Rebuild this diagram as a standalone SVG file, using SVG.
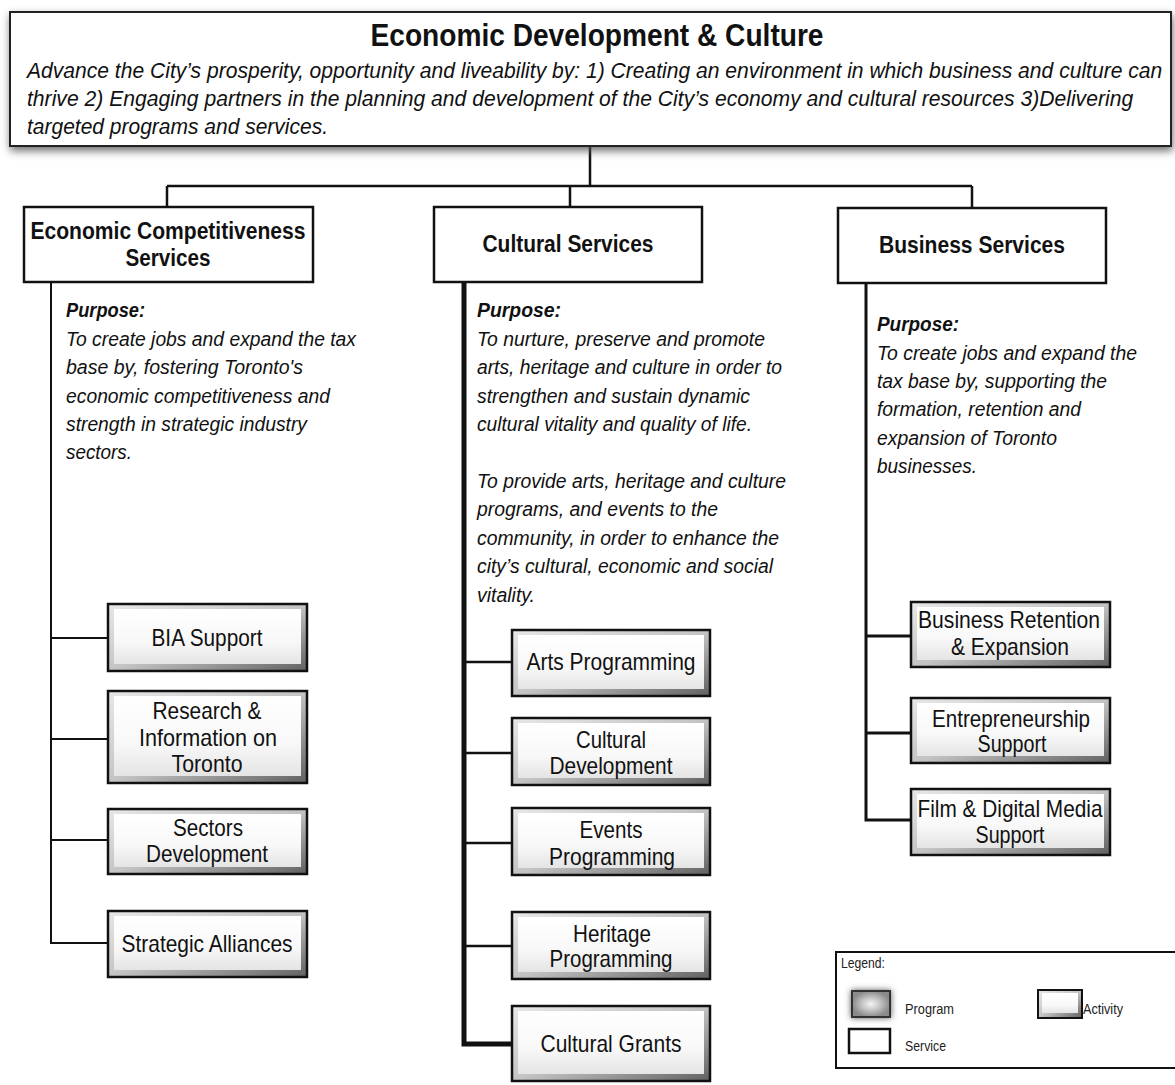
<svg xmlns="http://www.w3.org/2000/svg" width="1175" height="1085" viewBox="0 0 1175 1085">
<defs>
<style>
.svc { fill: #fff; stroke: #111; stroke-width: 2.5; }
.act-o { fill: url(#gOuter); stroke: #111; stroke-width: 2.5; }
.act-i { fill: url(#gInner); }
.lbl { font-family: "Liberation Sans", Arial, sans-serif; font-size: 24px; text-anchor: middle; fill: #111; }
.svcl { font-family: "Liberation Sans", Arial, sans-serif; font-size: 23px; font-weight: bold; text-anchor: middle; fill: #111; }
.desc { font-family: "Liberation Sans", Arial, sans-serif; font-size: 22px; font-style: italic; fill: #111; }
.purp { font-family: "Liberation Sans", Arial, sans-serif; font-size: 20px; font-style: italic; fill: #111; }
.purph { font-weight: bold; }
.leg { font-family: "Liberation Sans", Arial, sans-serif; font-size: 14px; fill: #222; }
.con { fill: none; stroke: #111; stroke-width: 2.5; }
</style>
<linearGradient id="gOuter" x1="0" y1="0" x2="1" y2="1">
<stop offset="0" stop-color="#e8e8e8"/>
<stop offset="0.5" stop-color="#c4c4c4"/>
<stop offset="1" stop-color="#606060"/>
</linearGradient>
<linearGradient id="gInner" x1="0" y1="0" x2="0" y2="1">
<stop offset="0" stop-color="#ffffff"/>
<stop offset="0.6" stop-color="#f8f8f8"/>
<stop offset="1" stop-color="#e4e4e4"/>
</linearGradient>
<radialGradient id="gProg" cx="0.5" cy="0.5" r="0.5">
<stop offset="0" stop-color="#f4f4f4"/>
<stop offset="0.45" stop-color="#c8c8c8"/>
<stop offset="1" stop-color="#8a8a8a"/>
</radialGradient>
<filter id="shadow" x="-5%" y="-20%" width="110%" height="150%">
<feDropShadow dx="1" dy="4" stdDeviation="4" flood-color="#555" flood-opacity="0.85"/>
</filter>
<filter id="glow" x="-50%" y="-50%" width="200%" height="200%">
<feDropShadow dx="0" dy="0" stdDeviation="3" flood-color="#444" flood-opacity="0.9"/>
</filter>
</defs>
<rect width="1175" height="1085" fill="#fff"/>

<g id="connectors">
<path class="con" d="M590,146 V186 M167,186 H972 M167,186 V207 M570,186 V207 M972,186 V208"/>
<path class="con" style="stroke-width:2" d="M51,282 V943 H108 M51,638 H108 M51,739 H108 M51,840 H108"/>
<path class="con" style="stroke-width:5" d="M464,282 V1044 H512"/>
<path class="con" d="M464,662 H512 M464,753 H512 M464,843 H512 M464,946 H512"/>
<path class="con" style="stroke-width:3" d="M866,283 V820 H911 M866,636 H911 M866,733 H911"/>
</g>

<g id="top">
<rect x="10" y="12" width="1161" height="134" fill="#fff" stroke="#222" stroke-width="2" filter="url(#shadow)"/>
<text x="597" y="46" font-family="Liberation Sans, Arial, sans-serif" font-size="31" font-weight="bold" text-anchor="middle" fill="#111" textLength="453" lengthAdjust="spacingAndGlyphs">Economic Development &amp; Culture</text>
<text class="desc" transform="translate(27,78) scale(0.88,1)" x="0" y="0" textLength="1290" lengthAdjust="spacingAndGlyphs">Advance the City’s prosperity, opportunity and liveability by: 1) Creating an environment in which business and culture can</text>
<text class="desc" transform="translate(27,106) scale(0.88,1)" x="0" y="0" textLength="1257" lengthAdjust="spacingAndGlyphs">thrive 2) Engaging partners in the planning and development of the City’s economy and cultural resources 3)Delivering</text>
<text class="desc" x="27" y="134" textLength="301" lengthAdjust="spacingAndGlyphs">targeted programs and services.</text>
</g>

<g id="svc-econ">
<rect class="svc" x="24" y="207" width="289" height="75"/>
<text class="svcl" x="168" y="239" textLength="275" lengthAdjust="spacingAndGlyphs">Economic Competitiveness</text>
<text class="svcl" x="168" y="266" textLength="85" lengthAdjust="spacingAndGlyphs">Services</text>
</g>
<g id="svc-cult">
<rect class="svc" x="434" y="207" width="268" height="75"/>
<text class="svcl" x="568" y="252" textLength="171" lengthAdjust="spacingAndGlyphs">Cultural Services</text>
</g>
<g id="svc-bus">
<rect class="svc" x="838" y="208" width="268" height="75"/>
<text class="svcl" x="972" y="253" textLength="186" lengthAdjust="spacingAndGlyphs">Business Services</text>
</g>

<g id="purpose-econ">
<text class="purp purph" x="66" y="317" textLength="79" lengthAdjust="spacingAndGlyphs">Purpose:</text>
<text class="purp" x="66" y="346" textLength="290" lengthAdjust="spacingAndGlyphs">To create jobs and expand the tax</text>
<text class="purp" x="66" y="374" textLength="237" lengthAdjust="spacingAndGlyphs">base by, fostering Toronto's</text>
<text class="purp" x="66" y="403" textLength="264" lengthAdjust="spacingAndGlyphs">economic competitiveness and</text>
<text class="purp" x="66" y="431" textLength="241" lengthAdjust="spacingAndGlyphs">strength in strategic industry</text>
<text class="purp" x="66" y="459" textLength="66" lengthAdjust="spacingAndGlyphs">sectors.</text>
</g>
<g id="purpose-cult">
<text class="purp purph" x="477" y="317" textLength="84" lengthAdjust="spacingAndGlyphs">Purpose:</text>
<text class="purp" x="477" y="346" textLength="288" lengthAdjust="spacingAndGlyphs">To nurture, preserve and promote</text>
<text class="purp" x="477" y="374" textLength="305" lengthAdjust="spacingAndGlyphs">arts, heritage and culture in order to</text>
<text class="purp" x="477" y="403" textLength="273" lengthAdjust="spacingAndGlyphs">strengthen and sustain dynamic</text>
<text class="purp" x="477" y="431" textLength="275" lengthAdjust="spacingAndGlyphs">cultural vitality and quality of life.</text>
<text class="purp" x="477" y="488" textLength="309" lengthAdjust="spacingAndGlyphs">To provide arts, heritage and culture</text>
<text class="purp" x="477" y="516" textLength="241" lengthAdjust="spacingAndGlyphs">programs, and events to the</text>
<text class="purp" x="477" y="545" textLength="302" lengthAdjust="spacingAndGlyphs">community, in order to enhance the</text>
<text class="purp" x="477" y="573" textLength="296" lengthAdjust="spacingAndGlyphs">city’s cultural, economic and social</text>
<text class="purp" x="477" y="602" textLength="58" lengthAdjust="spacingAndGlyphs">vitality.</text>
</g>
<g id="purpose-bus">
<text class="purp purph" x="877" y="331" textLength="82" lengthAdjust="spacingAndGlyphs">Purpose:</text>
<text class="purp" x="877" y="360" textLength="260" lengthAdjust="spacingAndGlyphs">To create jobs and expand the</text>
<text class="purp" x="877" y="388" textLength="230" lengthAdjust="spacingAndGlyphs">tax base by, supporting the</text>
<text class="purp" x="877" y="416" textLength="204" lengthAdjust="spacingAndGlyphs">formation, retention and</text>
<text class="purp" x="877" y="445" textLength="180" lengthAdjust="spacingAndGlyphs">expansion of Toronto</text>
<text class="purp" x="877" y="473" textLength="100" lengthAdjust="spacingAndGlyphs">businesses.</text>
</g>

<g id="act-bia">
<rect class="act-o" x="108" y="604" width="199" height="67"/>
<rect class="act-i" x="114" y="609" width="187" height="55"/>
<text class="lbl" x="207" y="646" textLength="111" lengthAdjust="spacingAndGlyphs">BIA Support</text>
</g>
<g id="act-research">
<rect class="act-o" x="108" y="691" width="199" height="92"/>
<rect class="act-i" x="114" y="696" width="187" height="80"/>
<text class="lbl" x="207" y="719" textLength="109" lengthAdjust="spacingAndGlyphs">Research &amp;</text>
<text class="lbl" x="208" y="746" textLength="138" lengthAdjust="spacingAndGlyphs">Information  on</text>
<text class="lbl" x="207" y="772" textLength="71" lengthAdjust="spacingAndGlyphs">Toronto</text>
</g>
<g id="act-sectors">
<rect class="act-o" x="108" y="809" width="199" height="65"/>
<rect class="act-i" x="114" y="814" width="187" height="53"/>
<text class="lbl" x="208" y="836" textLength="70" lengthAdjust="spacingAndGlyphs">Sectors</text>
<text class="lbl" x="207" y="862" textLength="122" lengthAdjust="spacingAndGlyphs">Development</text>
</g>
<g id="act-strategic">
<rect class="act-o" x="108" y="911" width="199" height="66"/>
<rect class="act-i" x="114" y="916" width="187" height="54"/>
<text class="lbl" x="207" y="952" textLength="171" lengthAdjust="spacingAndGlyphs">Strategic Alliances</text>
</g>

<g id="act-arts">
<rect class="act-o" x="512" y="630" width="198" height="66"/>
<rect class="act-i" x="518" y="635" width="186" height="54"/>
<text class="lbl" x="611" y="670" textLength="169" lengthAdjust="spacingAndGlyphs">Arts Programming</text>
</g>
<g id="act-culturaldev">
<rect class="act-o" x="512" y="718" width="198" height="67"/>
<rect class="act-i" x="518" y="723" width="186" height="55"/>
<text class="lbl" x="611" y="748" textLength="70" lengthAdjust="spacingAndGlyphs">Cultural</text>
<text class="lbl" x="611" y="774" textLength="123" lengthAdjust="spacingAndGlyphs">Development</text>
</g>
<g id="act-events">
<rect class="act-o" x="512" y="808" width="198" height="67"/>
<rect class="act-i" x="518" y="813" width="186" height="55"/>
<text class="lbl" x="611" y="838" textLength="63" lengthAdjust="spacingAndGlyphs">Events</text>
<text class="lbl" x="612" y="865" textLength="126" lengthAdjust="spacingAndGlyphs">Programming</text>
</g>
<g id="act-heritage">
<rect class="act-o" x="512" y="912" width="198" height="67"/>
<rect class="act-i" x="518" y="917" width="186" height="55"/>
<text class="lbl" x="612" y="942" textLength="78" lengthAdjust="spacingAndGlyphs">Heritage</text>
<text class="lbl" x="611" y="967" textLength="123" lengthAdjust="spacingAndGlyphs">Programming</text>
</g>
<g id="act-grants">
<rect class="act-o" x="512" y="1006" width="198" height="75"/>
<rect class="act-i" x="518" y="1011" width="186" height="63"/>
<text class="lbl" x="611" y="1052" textLength="141" lengthAdjust="spacingAndGlyphs">Cultural Grants</text>
</g>

<g id="act-retention">
<rect class="act-o" x="911" y="602" width="199" height="65"/>
<rect class="act-i" x="917" y="607" width="187" height="53"/>
<text class="lbl" x="1009" y="628" textLength="182" lengthAdjust="spacingAndGlyphs">Business Retention</text>
<text class="lbl" x="1010" y="655" textLength="118" lengthAdjust="spacingAndGlyphs">&amp; Expansion</text>
</g>
<g id="act-entre">
<rect class="act-o" x="911" y="698" width="199" height="65"/>
<rect class="act-i" x="917" y="703" width="187" height="53"/>
<text class="lbl" x="1011" y="727" textLength="158" lengthAdjust="spacingAndGlyphs">Entrepreneurship</text>
<text class="lbl" x="1012" y="752" textLength="69" lengthAdjust="spacingAndGlyphs">Support</text>
</g>
<g id="act-film">
<rect class="act-o" x="911" y="789" width="199" height="66"/>
<rect class="act-i" x="917" y="794" width="187" height="54"/>
<text class="lbl" x="1010" y="817" textLength="185" lengthAdjust="spacingAndGlyphs">Film &amp; Digital Media</text>
<text class="lbl" x="1010" y="843" textLength="69" lengthAdjust="spacingAndGlyphs">Support</text>
</g>

<g id="legend">
<rect x="836" y="952" width="345" height="116" fill="#fff" stroke="#111" stroke-width="2"/>
<text class="leg" x="841" y="968" textLength="44" lengthAdjust="spacingAndGlyphs">Legend:</text>
<rect x="852" y="991" width="38" height="26" fill="url(#gProg)" stroke="#333" stroke-width="2" filter="url(#glow)"/>
<text class="leg" x="905" y="1014" textLength="49" lengthAdjust="spacingAndGlyphs">Program</text>
<rect class="act-o" x="1038" y="990" width="44" height="28" style="stroke-width:2"/>
<rect class="act-i" x="1042" y="993" width="36" height="20"/>
<text class="leg" x="1083" y="1014" textLength="40" lengthAdjust="spacingAndGlyphs">Activity</text>
<rect x="849" y="1029" width="41" height="24" fill="#fff" stroke="#111" stroke-width="2.5"/>
<text class="leg" x="905" y="1051" textLength="41" lengthAdjust="spacingAndGlyphs">Service</text>
</g>
</svg>
